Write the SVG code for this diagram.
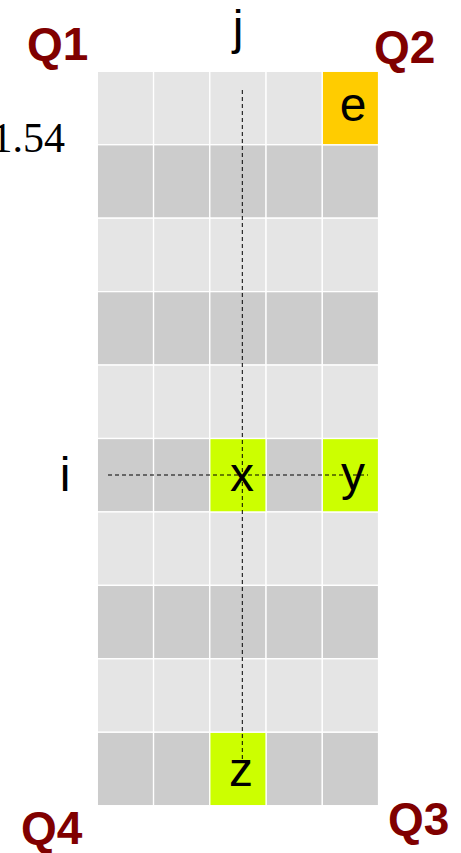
<svg xmlns="http://www.w3.org/2000/svg" width="461" height="853" viewBox="0 0 461 853">
<style>
.c{stroke:#ffffff;stroke-width:1.3}
.l{fill:#e5e5e5}
.d{fill:#cccccc}
.hy{fill:#ffcc00}
.hg{fill:#ccff00}
.t{font-family:"Liberation Sans",Arial,sans-serif;font-size:48px;fill:#000000;text-anchor:middle}
.q{font-family:"Liberation Sans",Arial,sans-serif;font-size:46px;font-weight:bold;fill:#800000}
.n{font-family:"Liberation Serif","Times New Roman",serif;font-size:42px;fill:#000000;text-anchor:end}
.dash{stroke:#000000;stroke-width:1;stroke-dasharray:4,3;fill:none}
</style>
<rect width="461" height="853" fill="#ffffff"/>
<g id="grid">
<g id="row0">
<rect class="c l" x="97.3" y="71.3" width="56.25" height="73.44"/>
<rect class="c l" x="153.55" y="71.3" width="56.25" height="73.44"/>
<rect class="c l" x="209.8" y="71.3" width="56.25" height="73.44"/>
<rect class="c l" x="266.05" y="71.3" width="56.25" height="73.44"/>
</g>
<g id="row1">
<rect class="c d" x="97.3" y="144.74" width="56.25" height="73.44"/>
<rect class="c d" x="153.55" y="144.74" width="56.25" height="73.44"/>
<rect class="c d" x="209.8" y="144.74" width="56.25" height="73.44"/>
<rect class="c d" x="266.05" y="144.74" width="56.25" height="73.44"/>
<rect class="c d" x="322.3" y="144.74" width="56.25" height="73.44"/>
</g>
<g id="row2">
<rect class="c l" x="97.3" y="218.18" width="56.25" height="73.44"/>
<rect class="c l" x="153.55" y="218.18" width="56.25" height="73.44"/>
<rect class="c l" x="209.8" y="218.18" width="56.25" height="73.44"/>
<rect class="c l" x="266.05" y="218.18" width="56.25" height="73.44"/>
<rect class="c l" x="322.3" y="218.18" width="56.25" height="73.44"/>
</g>
<g id="row3">
<rect class="c d" x="97.3" y="291.62" width="56.25" height="73.44"/>
<rect class="c d" x="153.55" y="291.62" width="56.25" height="73.44"/>
<rect class="c d" x="209.8" y="291.62" width="56.25" height="73.44"/>
<rect class="c d" x="266.05" y="291.62" width="56.25" height="73.44"/>
<rect class="c d" x="322.3" y="291.62" width="56.25" height="73.44"/>
</g>
<g id="row4">
<rect class="c l" x="97.3" y="365.06" width="56.25" height="73.44"/>
<rect class="c l" x="153.55" y="365.06" width="56.25" height="73.44"/>
<rect class="c l" x="209.8" y="365.06" width="56.25" height="73.44"/>
<rect class="c l" x="266.05" y="365.06" width="56.25" height="73.44"/>
<rect class="c l" x="322.3" y="365.06" width="56.25" height="73.44"/>
</g>
<g id="row5">
<rect class="c d" x="97.3" y="438.5" width="56.25" height="73.44"/>
<rect class="c d" x="153.55" y="438.5" width="56.25" height="73.44"/>
<rect class="c d" x="266.05" y="438.5" width="56.25" height="73.44"/>
</g>
<g id="row6">
<rect class="c l" x="97.3" y="511.94" width="56.25" height="73.44"/>
<rect class="c l" x="153.55" y="511.94" width="56.25" height="73.44"/>
<rect class="c l" x="209.8" y="511.94" width="56.25" height="73.44"/>
<rect class="c l" x="266.05" y="511.94" width="56.25" height="73.44"/>
<rect class="c l" x="322.3" y="511.94" width="56.25" height="73.44"/>
</g>
<g id="row7">
<rect class="c d" x="97.3" y="585.38" width="56.25" height="73.44"/>
<rect class="c d" x="153.55" y="585.38" width="56.25" height="73.44"/>
<rect class="c d" x="209.8" y="585.38" width="56.25" height="73.44"/>
<rect class="c d" x="266.05" y="585.38" width="56.25" height="73.44"/>
<rect class="c d" x="322.3" y="585.38" width="56.25" height="73.44"/>
</g>
<g id="row8">
<rect class="c l" x="97.3" y="658.82" width="56.25" height="73.44"/>
<rect class="c l" x="153.55" y="658.82" width="56.25" height="73.44"/>
<rect class="c l" x="209.8" y="658.82" width="56.25" height="73.44"/>
<rect class="c l" x="266.05" y="658.82" width="56.25" height="73.44"/>
<rect class="c l" x="322.3" y="658.82" width="56.25" height="73.44"/>
</g>
<g id="row9">
<rect class="c d" x="97.3" y="732.26" width="56.25" height="73.44"/>
<rect class="c d" x="153.55" y="732.26" width="56.25" height="73.44"/>
<rect class="c d" x="266.05" y="732.26" width="56.25" height="73.44"/>
<rect class="c d" x="322.3" y="732.26" width="56.25" height="73.44"/>
</g>
</g>
<g id="node-e">
<rect class="c hy" x="322.3" y="71.3" width="56.25" height="73.44"/>
<text class="t" x="353" y="121">e</text>
</g>
<g id="node-x">
<rect class="c hg" x="209.8" y="438.5" width="56.25" height="73.44"/>
</g>
<g id="node-y">
<rect class="c hg" x="322.3" y="438.5" width="56.25" height="73.44"/>
</g>
<g id="node-z">
<rect class="c hg" x="209.8" y="732.26" width="56.25" height="73.44"/>
</g>
<g id="connectors">
<line class="dash" x1="242.3" y1="90" x2="242.3" y2="760"/>
<line class="dash" x1="108" y1="475" x2="368" y2="475"/>
</g>
<g id="labels">
<text class="t" x="242" y="491">x</text>
<text class="t" x="353" y="490">y</text>
<text class="t" x="241" y="786">z</text>
<text class="t" x="238" y="44">j</text>
<text class="t" x="65" y="491">i</text>
<text class="n" x="65" y="152">1.54</text>
</g>
<g id="quadrants">
<text class="q" x="27" y="60">Q1</text>
<text class="q" x="374" y="63">Q2</text>
<text class="q" x="388" y="835">Q3</text>
<text class="q" x="21" y="844">Q4</text>
</g>
</svg>
